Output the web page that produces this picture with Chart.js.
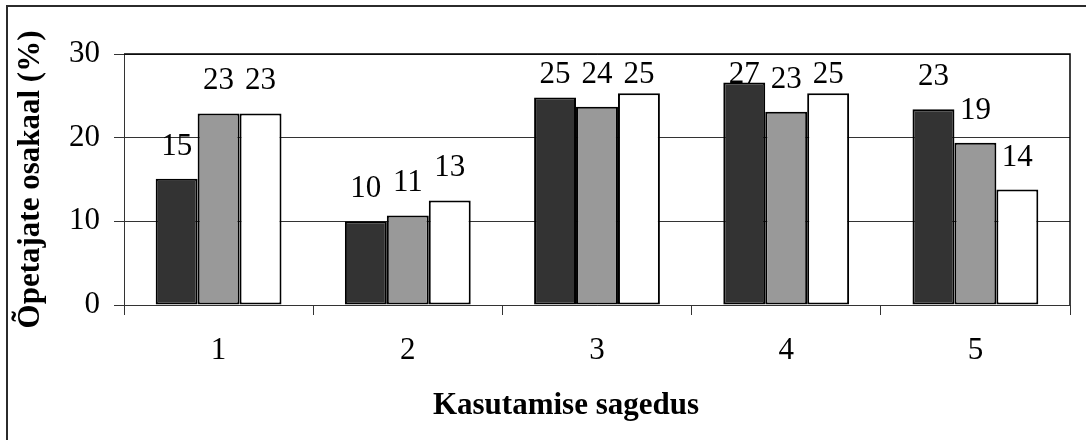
<!DOCTYPE html>
<html>
<head>
<meta charset="utf-8">
<script src="https://cdn.jsdelivr.net/npm/chart.js@4/dist/chart.umd.min.js"></script>
<style>
  html, body { margin: 0; padding: 0; background: #ffffff; }
  #wrap { width: 1086px; height: 440px; }
</style>
</head>
<body>
<div id="wrap"><canvas id="chart" width="1086" height="440"></canvas></div>
<script>
// Kasutamise sagedus (1–5) ja õpetajate osakaal protsentides
const categories = ['1', '2', '3', '4', '5'];
const seriesA = [15.1, 10.0, 24.8, 26.6, 23.4];
const seriesB = [22.9, 10.7, 23.7, 23.1, 19.4];
const seriesC = [22.9, 12.5, 25.3, 25.3, 13.8];
const yTicks = [0, 10, 20, 30];

const SERIF = "'Liberation Serif', 'Times New Roman', serif";
const FONT_SIZE = 31;

// Outer frame of the chart area (left and top edges visible)
const framePlugin = {
  id: 'frame',
  beforeDraw(chart) {
    const ctx = chart.ctx;
    ctx.save();
    ctx.fillStyle = '#ffffff';
    ctx.fillRect(0, 0, chart.width, chart.height);
    ctx.strokeStyle = '#2b2b2b';
    ctx.lineWidth = 2;
    ctx.beginPath();
    ctx.moveTo(7, chart.height + 2);
    ctx.lineTo(7, 6);
    ctx.lineTo(chart.width + 2, 6);
    ctx.stroke();
    ctx.restore();
  },
  afterDraw(chart) {
    const { ctx, chartArea } = chart;
    ctx.save();
    ctx.strokeStyle = '#000000';
    ctx.lineWidth = 1.5;
    ctx.beginPath();
    ctx.moveTo(chartArea.left, chartArea.top);
    ctx.lineTo(chartArea.right, chartArea.top);
    ctx.lineTo(chartArea.right, chartArea.bottom);
    ctx.stroke();

    // axis titles
    ctx.fillStyle = '#000000';
    ctx.font = "bold " + FONT_SIZE + "px " + SERIF;
    ctx.textAlign = 'center';
    ctx.textBaseline = 'middle';
    ctx.fillText('Kasutamise sagedus', 566, 406);
    ctx.translate(31, (chartArea.top + chartArea.bottom) / 2);
    ctx.rotate(-Math.PI / 2);
    ctx.fillText('Õpetajate osakaal (%)', 0, 0);
    ctx.restore();
  }
};

// Value labels above each bar
const valueLabels = {
  id: 'valueLabels',
  afterDatasetsDraw(chart) {
    const { ctx, chartArea } = chart;
    ctx.save();
    ctx.fillStyle = '#000000';
    ctx.font = FONT_SIZE + "px " + SERIF;
    ctx.textAlign = 'center';
    ctx.textBaseline = 'alphabetic';
    chart.data.datasets.forEach((ds, i) => {
      chart.getDatasetMeta(i).data.forEach((bar, j) => {
        const y = Math.max(bar.y - 24, chartArea.top + 29);
        ctx.fillText(String(Math.round(ds.data[j])), bar.x, y);
      });
    });
    ctx.restore();
  }
};

const barStyle = {
  borderColor: '#000000',
  borderWidth: 2,
  borderSkipped: false,
  categoryPercentage: 0.665,
  barPercentage: 1.0
};

new Chart(document.getElementById('chart'), {
  type: 'bar',
  data: {
    labels: categories,
    datasets: [
      Object.assign({ label: 'A', data: seriesA, backgroundColor: '#333333' }, barStyle),
      Object.assign({ label: 'B', data: seriesB, backgroundColor: '#999999' }, barStyle),
      Object.assign({ label: 'C', data: seriesC, backgroundColor: '#ffffff' }, barStyle)
    ]
  },
  options: {
    responsive: false,
    animation: false,
    devicePixelRatio: 1,
    layout: { padding: { left: 0, top: 54, right: 16, bottom: 0 } },
    plugins: {
      legend: { display: false },
      tooltip: { enabled: false },
      title: { display: false }
    },
    scales: {
      x: {
        grid: {
          offset: true,
          drawOnChartArea: false,
          drawTicks: true,
          tickLength: 10,
          color: '#333333',
          lineWidth: 1
        },
        border: { display: true, color: '#333333', width: 1 },
        ticks: {
          color: '#000000',
          font: { family: SERIF, size: FONT_SIZE },
          padding: 17,
          maxRotation: 0
        },
        afterFit(scale) { scale.height = 135; }
      },
      y: {
        min: 0,
        max: 30,
        afterBuildTicks(scale) { scale.ticks = yTicks.map(v => ({ value: v })); },
        grid: {
          color: '#333333',
          lineWidth: 1,
          tickLength: 10
        },
        border: { display: true, color: '#333333', width: 1 },
        ticks: {
          color: '#000000',
          font: { family: SERIF, size: FONT_SIZE },
          padding: 14
        },
        afterFit(scale) { scale.width = 124; }
      }
    }
  },
  plugins: [framePlugin, valueLabels]
});
</script>
</body>
</html>
